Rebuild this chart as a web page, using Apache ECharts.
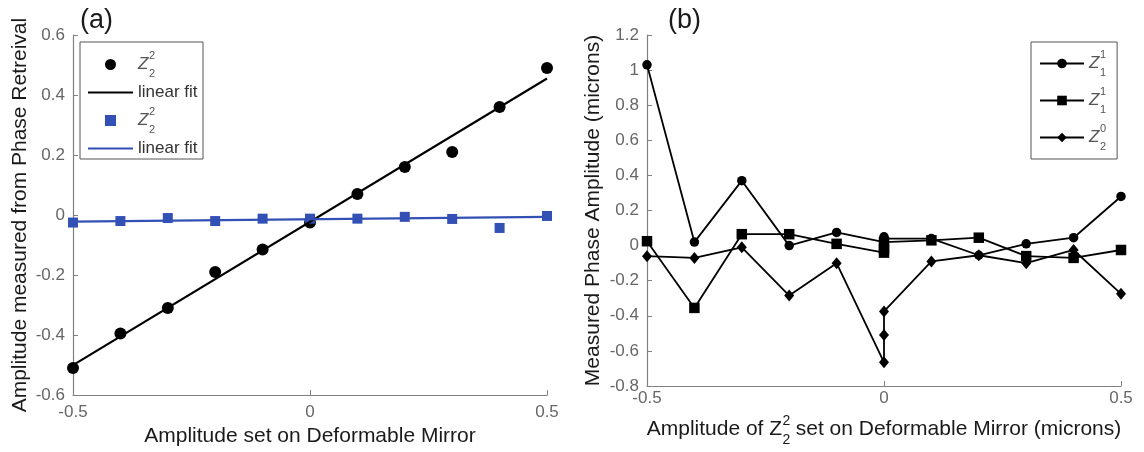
<!DOCTYPE html>
<html>
<head>
<meta charset="utf-8">
<script src="https://cdn.jsdelivr.net/npm/echarts@6/dist/echarts.min.js"></script>
<style>
html, body { margin: 0; padding: 0; background: #fff; }
#chart { width: 1144px; height: 452px; }
</style>
</head>
<body>
<div id="chart"></div>
<script>
// panel (a): measured vs set amplitude
var xA = [-0.5, -0.4, -0.3, -0.2, -0.1, 0, 0.1, 0.2, 0.3, 0.4, 0.5];
var dotsA = [-0.51, -0.395, -0.31, -0.19, -0.115, -0.025, 0.07, 0.16, 0.21, 0.36, 0.49];
var squaresA = [-0.025, -0.02, -0.01, -0.02, -0.012, -0.012, -0.012, -0.006, -0.013, -0.043, -0.003];
var fitX = [-0.5, 0.5];
var fitBlack = [-0.50, 0.455];
var fitBlue = [-0.022, -0.006];
var xTicksA = [-0.5, 0, 0.5];
var yTicksA = [-0.6, -0.4, -0.2, 0, 0.2, 0.4, 0.6];

// panel (b): cross-talk into other terms (three repeats at 0)
var xB = [-0.5, -0.4, -0.3, -0.2, -0.1, 0, 0, 0, 0.1, 0.2, 0.3, 0.4, 0.5];
var circleB = [1.03, 0.02, 0.37, 0.0, 0.075, 0.02, 0.04, 0.05, 0.04, -0.055, 0.01, 0.045, 0.28];
var squareB = [0.025, -0.355, 0.065, 0.065, 0.01, -0.04, -0.02, 0.02, 0.03, 0.045, -0.06, -0.07, -0.025];
var diamondB = [-0.06, -0.07, -0.01, -0.285, -0.10, -0.665, -0.51, -0.375, -0.09, -0.055, -0.10, -0.025, -0.275];
var xTicksB = [-0.5, 0, 0.5];
var yTicksB = [-0.8, -0.6, -0.4, -0.2, 0, 0.2, 0.4, 0.6, 0.8, 1, 1.2];

var FONT = '"Liberation Sans", Arial, sans-serif';
var BLUE = '#3350b5';
var TITLE = 21;

function pairs(xs, ys) {
  return xs.map(function (x, i) { return [x, ys[i]]; });
}
function step(t) { return +(t[1] - t[0]).toFixed(6); }
function fmt(v) { return String(+v.toFixed(2)); }

function valueAxis(ticks, grid, extra) {
  var ax = {
    type: 'value',
    gridIndex: grid,
    min: ticks[0],
    max: ticks[ticks.length - 1],
    interval: step(ticks),
    splitLine: { show: false },
    axisLine: { show: true, onZero: false, lineStyle: { color: '#808080', width: 1.2 } },
    axisTick: { show: true, inside: true, length: 5, lineStyle: { color: '#808080' } },
    axisLabel: { color: '#666', fontSize: 17, fontFamily: FONT, formatter: fmt },
    nameLocation: 'middle',
    nameTextStyle: { color: '#1a1a1a', fontSize: TITLE, fontFamily: FONT }
  };
  for (var k in extra) ax[k] = extra[k];
  return ax;
}

// Z with stacked super/subscript for the legends
var zRich = {
  sp: { fontSize: 11, lineHeight: 6, color: '#555', fontFamily: FONT },
  z: { fontSize: 17, lineHeight: 12, fontStyle: 'italic', color: '#555', fontFamily: FONT },
  gap: { width: 11, fontSize: 11, lineHeight: 6 },
  t: { fontSize: 17, lineHeight: 24, color: '#333', fontFamily: FONT, width: 62 }
};
function zLabel(sub, sup) {
  return '{gap| }{sp|' + sup + '}\n{z|Z}\n{gap| }{sp|' + sub + '}';
}
var legendText = {
  'dots': zLabel(2, 2),
  'fit black': '{t|linear fit}',
  'squares': zLabel(2, 2),
  'fit blue': '{t|linear fit}',
  'circle b': zLabel(1, 1),
  'square b': zLabel(1, 1),
  'diamond b': zLabel(2, 0)
};
var lineIcon = 'path://M0,0h45v2.2h-45z';
var squareIcon = 'path://M0,0h10v10h-10z';

var chart = echarts.init(document.getElementById('chart'));
chart.setOption({
  animation: false,
  title: [
    { text: '(a)', left: 80, top: 7, padding: 0, textStyle: { fontSize: 27, fontWeight: 'normal', color: '#1a1a1a', fontFamily: FONT } },
    { text: '(b)', left: 668, top: 7, padding: 0, textStyle: { fontSize: 27, fontWeight: 'normal', color: '#1a1a1a', fontFamily: FONT } }
  ],
  grid: [
    { left: 73, top: 35, right: 597, bottom: 52.5 },
    { left: 647, top: 35, right: 23, bottom: 66 }
  ],
  xAxis: [
    valueAxis(xTicksA, 0, { name: 'Amplitude set on Deformable Mirror', nameGap: 28, axisLabel: { color: '#666', fontSize: 17, fontFamily: FONT, formatter: fmt, margin: 9 } }),
    valueAxis(xTicksB, 1, { axisLabel: { color: '#666', fontSize: 17, fontFamily: FONT, formatter: fmt, margin: 4 } })
  ],
  yAxis: [
    valueAxis(yTicksA, 0, { name: 'Amplitude measured from Phase Retreival', nameGap: 42 }),
    valueAxis(yTicksB, 1, { name: 'Measured Phase Amplitude (microns)', nameGap: 43 })
  ],
  legend: [
    {
      orient: 'vertical', left: 80, top: 42,
      data: [
        { name: 'dots', icon: 'circle' },
        { name: 'fit black', icon: lineIcon },
        { name: 'squares', icon: squareIcon },
        { name: 'fit blue', icon: lineIcon }
      ],
      itemWidth: 45, itemHeight: 11, itemGap: 5,
      padding: [8, 3, 2, 8],
      borderColor: '#555', borderWidth: 1,
      selectedMode: false,
      formatter: function (n) { return legendText[n]; },
      textStyle: { rich: zRich }
    },
    {
      orient: 'vertical', left: 1031, top: 42,
      data: ['circle b', 'square b', 'diamond b'],
      itemWidth: 44, itemHeight: 12, itemGap: 8,
      padding: [7, 11, 7, 8],
      borderColor: '#555', borderWidth: 1,
      selectedMode: false,
      formatter: function (n) { return legendText[n]; },
      textStyle: { rich: zRich }
    }
  ],
  series: [
    { name: 'fit black', type: 'line', xAxisIndex: 0, yAxisIndex: 0, data: pairs(fitX, fitBlack), symbol: 'none', lineStyle: { color: '#000', width: 2.2 }, itemStyle: { color: '#000' } },
    { name: 'fit blue', type: 'line', xAxisIndex: 0, yAxisIndex: 0, data: pairs(fitX, fitBlue), symbol: 'none', lineStyle: { color: BLUE, width: 2.4 }, itemStyle: { color: BLUE } },
    { name: 'dots', type: 'scatter', xAxisIndex: 0, yAxisIndex: 0, data: pairs(xA, dotsA), symbol: 'circle', symbolSize: 12, itemStyle: { color: '#000', opacity: 1 } },
    { name: 'squares', type: 'scatter', xAxisIndex: 0, yAxisIndex: 0, data: pairs(xA, squaresA), symbol: 'rect', symbolSize: 10, itemStyle: { color: BLUE, opacity: 1 } },
    { name: 'circle b', type: 'line', xAxisIndex: 1, yAxisIndex: 1, data: pairs(xB, circleB), symbol: 'circle', symbolSize: 9.5, lineStyle: { color: '#000', width: 1.8 }, itemStyle: { color: '#000' } },
    { name: 'square b', type: 'line', xAxisIndex: 1, yAxisIndex: 1, data: pairs(xB, squareB), symbol: 'rect', symbolSize: 10.5, lineStyle: { color: '#000', width: 1.8 }, itemStyle: { color: '#000' } },
    { name: 'diamond b', type: 'line', xAxisIndex: 1, yAxisIndex: 1, data: pairs(xB, diamondB), symbol: 'diamond', symbolSize: [10, 12], lineStyle: { color: '#000', width: 1.8 }, itemStyle: { color: '#000' } }
  ]
});

// x title of panel (b) with a stacked Z sub/superscript, centred under the axis
var ctx = document.createElement('canvas').getContext('2d');
function textWidth(s, size) { ctx.font = size + 'px ' + FONT; return ctx.measureText(s).width; }
var partL = 'Amplitude of Z', partR = ' set on Deformable Mirror (microns)';
var wL = textWidth(partL, TITLE), wS = textWidth('2', 14), wR = textWidth(partR, TITLE);
var centre = chart.convertToPixel({ xAxisIndex: 1 }, 0);
var x0 = centre - (wL + wS + wR) / 2;
var ty = 429;
function txt(s, x, y, size) {
  return { type: 'text', x: x, y: y, style: { text: s, fontSize: size, fontFamily: FONT, fill: '#1a1a1a', verticalAlign: 'middle', align: 'left' } };
}
chart.setOption({
  graphic: [
    txt(partL, x0, ty, TITLE),
    txt('2', x0 + wL + 0.5, ty - 8, 14),
    txt('2', x0 + wL + 0.5, ty + 11, 14),
    txt(partR, x0 + wL + wS, ty, TITLE)
  ]
});
</script>
</body>
</html>
